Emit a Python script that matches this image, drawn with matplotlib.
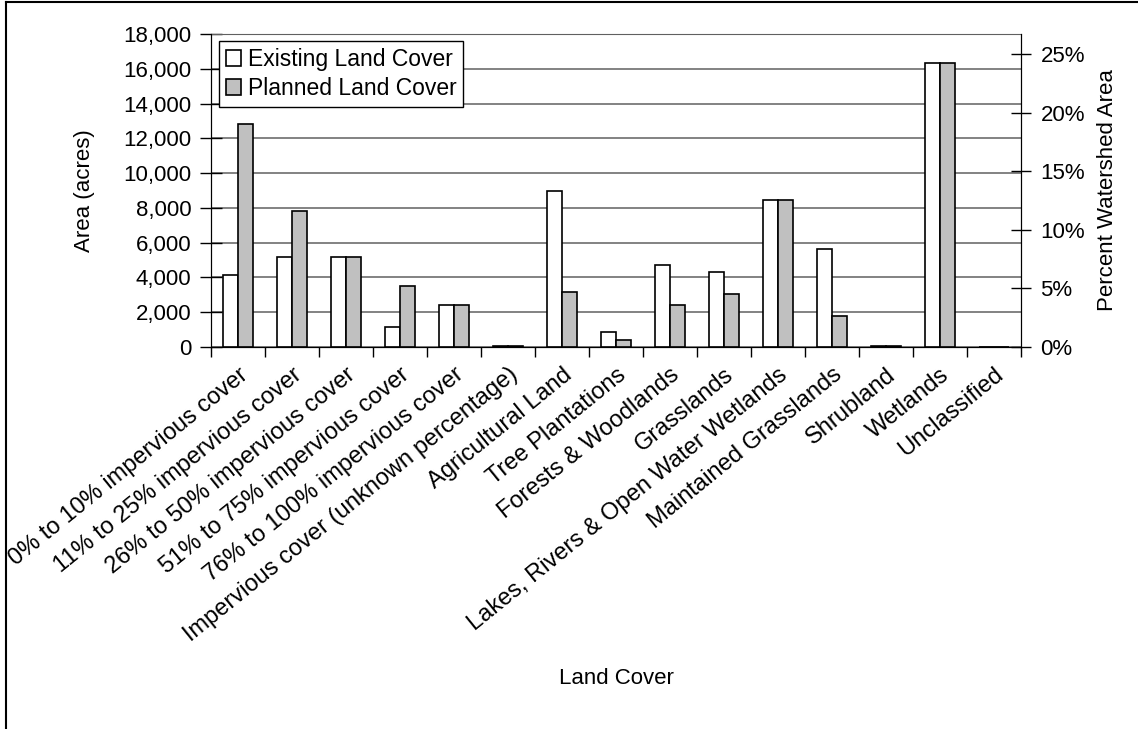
import numpy as np
import matplotlib
matplotlib.use("Agg")
import matplotlib.pyplot as plt
from matplotlib.lines import Line2D
from matplotlib.ticker import FuncFormatter

plt.rcParams['font.family'] = ['Liberation Sans', 'DejaVu Sans']

categories = [
    "0% to 10% impervious cover",
    "11% to 25% impervious cover",
    "26% to 50% impervious cover",
    "51% to 75% impervious cover",
    "76% to 100% impervious cover",
    "Impervious cover (unknown percentage)",
    "Agricultural Land",
    "Tree Plantations",
    "Forests & Woodlands",
    "Grasslands",
    "Lakes, Rivers & Open Water Wetlands",
    "Maintained Grasslands",
    "Shrubland",
    "Wetlands",
    "Unclassified",
]
existing = [4140, 5190, 5150, 1130, 2390, 30, 8950, 840, 4715, 4330, 8450, 5610, 60, 16350, 20]
planned = [12800, 7840, 5150, 3510, 2400, 60, 3140, 420, 2390, 3025, 8450, 1800, 30, 16350, 20]

# total watershed area, used for the percent axis on the right
total_area = sum(existing)

fs = 16

fig = plt.figure(figsize=(11.38, 7.29), dpi=100)
ax = fig.add_axes([211/1138, 1-347/729, 810/1138, 313/729])

x = np.arange(len(categories))
w = 0.287
ax.bar(x - w/2, existing, w, color='white', edgecolor='black', linewidth=1.2,
       label='Existing Land Cover', zorder=3)
ax.bar(x + w/2, planned, w, color='#c0c0c0', edgecolor='black', linewidth=1.2,
       label='Planned Land Cover', zorder=3)

ax.set_xlim(-0.5, len(categories) - 0.5)
ax.set_ylim(0, 18000)
ax.set_yticks(np.arange(0, 18001, 2000))
ax.yaxis.set_major_formatter(FuncFormatter(lambda v, p: f"{int(v):,}"))
ax.grid(axis='y', color='#606060', linewidth=1.1, zorder=0)

# ticks between categories, labels at category centres
ax.set_xticks(np.arange(-0.5, len(categories), 1.0))
ax.set_xticklabels([])
ax.set_xticks(x, minor=True)
ax.set_xticklabels(categories, minor=True, rotation=39, ha='right', va='top',
                   rotation_mode='anchor', fontsize=17)
ax.tick_params(axis='x', which='major', direction='out', length=7, width=1)
ax.tick_params(axis='x', which='minor', length=0, pad=12)
ax.tick_params(axis='y', direction='inout', length=16, width=1, labelsize=fs, pad=6)

for s in ['left', 'bottom', 'right']:
    ax.spines[s].set_color('black')
ax.spines['top'].set_color('#606060')

ax.set_ylabel("Area (acres)", fontsize=fs)
ax.yaxis.set_label_coords(-116/810, 0.5)
ax.set_xlabel("Land Cover", fontsize=fs)
ax.xaxis.set_label_coords(0.5, -321/313)

ax2 = ax.twinx()
ax2.set_ylim(0, 18000 / total_area * 100)
ax2.set_yticks(np.arange(0, 26, 5))
ax2.yaxis.set_major_formatter(FuncFormatter(lambda v, p: f"{int(v)}%"))
ax2.tick_params(axis='y', direction='inout', length=14, width=1, labelsize=fs, pad=7)
ax2.set_ylabel("Percent Watershed Area", fontsize=fs)
ax2.yaxis.set_label_coords(1 + 76/810, 0.5)
for s in ['left', 'bottom', 'right']:
    ax2.spines[s].set_color('black')
ax2.spines['top'].set_visible(False)

leg = ax.legend(loc='upper left', bbox_to_anchor=(0.01, 0.977), borderaxespad=0,
                fontsize=16.5, fancybox=False, framealpha=1, edgecolor='black',
                handlelength=0.65, handleheight=0.7, handletextpad=0.3,
                labelspacing=0.25, borderpad=0.3)
leg.get_frame().set_linewidth(1.0)
leg.set_zorder(5)

# outer border of the chart area
fig.add_artist(Line2D([6/1138, 6/1138], [0, 1-2/729], color='black', linewidth=1.5))
fig.add_artist(Line2D([6/1138, 1], [1-2/729, 1-2/729], color='black', linewidth=1.5))

fig.savefig("out.png", dpi=100)
